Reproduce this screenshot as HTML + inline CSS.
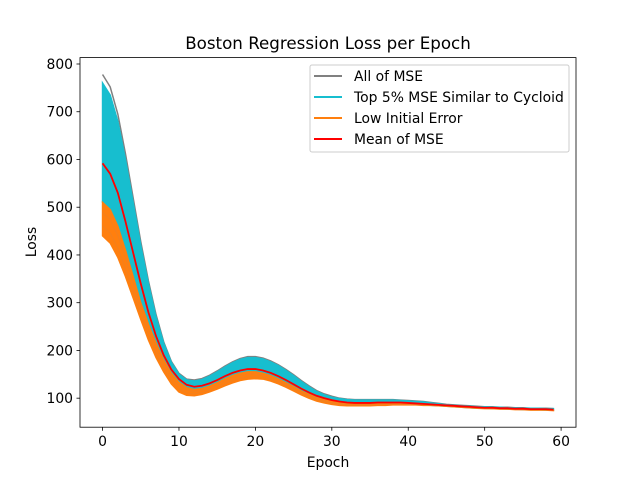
<!DOCTYPE html>
<html><head><meta charset="utf-8"><style>
body{margin:0;background:#fff;}
svg text{font-family:"DejaVu Sans","Liberation Sans",sans-serif;fill:#000;}
</style></head><body>
<svg id="chart" width="640" height="480" viewBox="0 0 640 480" xmlns="http://www.w3.org/2000/svg">
<rect width="640" height="480" fill="#fff"/>
<g id="marks"></g>
<rect x="80" y="57.6" width="496" height="369.6" fill="none" stroke="#000" stroke-width="0.8"/>
<g id="axes"></g>
<text x="328" y="49" font-size="16.7" text-anchor="middle">Boston Regression Loss per Epoch</text>
<text x="328" y="467" font-size="13.9" text-anchor="middle">Epoch</text>
<text transform="translate(36,242) rotate(-90)" font-size="13.9" text-anchor="middle">Loss</text>
<g>
<rect x="310" y="65" width="259" height="87" rx="2" fill="#fff" fill-opacity="0.8" stroke="#ccc" stroke-width="1"/>
<g><line x1="314" y1="76" x2="342" y2="76" stroke="#808080" stroke-width="2"/><text x="354" y="81" font-size="13.9">All of MSE</text></g>
<g><line x1="314" y1="97" x2="342" y2="97" stroke="#17becf" stroke-width="2"/><text x="354" y="102" font-size="13.9">Top 5% MSE Similar to Cycloid</text></g>
<g><line x1="314" y1="118" x2="342" y2="118" stroke="#ff7f0e" stroke-width="2"/><text x="354" y="123" font-size="13.9">Low Initial Error</text></g>
<g><line x1="314" y1="139" x2="342" y2="139" stroke="#ff0000" stroke-width="2"/><text x="354" y="144" font-size="13.9">Mean of MSE</text></g>
</g>
</svg>
<script>
const xTicks=[0,10,20,30,40,50,60];
const yTicks=[100,200,300,400,500,600,700,800];
const meanLoss=[592,570,530,470,405,340,280,230,190,160,140,128,124,126,131,138,146,153,158,161,161,158,153,146,138,129,120,112,105,100,96,93,91,90,90,90,91,91,91,91,90,89,88,87,86,85,84,83,82,81,80,80,79,79,78,78,77,77,77,76];
const cyanTop=[760,735,680,600,510,420,340,270,215,175,150,138,136,139,146,155,165,174,181,185,185,182,176,168,158,147,135,124,114,107,102,99,97,96,96,96,96,96,96,95,94,93,92,90,88,86,85,84,83,82,82,81,81,80,80,79,79,79,78,78];
const grayTop=[778,752,695,612,520,428,346,275,218,177,152,140,138,141,148,157,167,176,183,187,187,184,178,170,160,149,137,126,116,109,104,100,98,97,97,97,97,97,97,96,95,94,93,91,89,87,86,85,84,83,82,82,81,81,80,80,79,79,79,78];
const orangeTop=[510,495,460,410,355,300,255,215,180,152,133,122,118,120,125,132,140,147,152,155,155,152,147,140,132,124,115,108,101,97,93,91,89,88,88,88,89,89,89,89,88,87,86,85,84,83,82,81,80,79,79,78,78,77,77,76,76,76,75,75];
const orangeLow=[440,425,395,355,310,265,222,185,155,130,113,106,105,108,113,119,126,132,137,140,141,140,136,130,123,115,107,100,94,90,87,85,84,84,84,84,85,85,86,86,86,86,85,85,84,83,82,81,80,79,78,78,77,77,76,76,75,75,75,74];
const grayStarts=[0.0,0.35,0.6,0.8];

const xMin=-2.95,xMax=61.95,yMin=39.2,yMax=813.4;
const X=v=>80+(v-xMin)/(xMax-xMin)*496;
const Y=v=>427.2-(v-yMin)/(yMax-yMin)*369.6;
const NS="http://www.w3.org/2000/svg";
const marks=document.getElementById('marks'), axes=document.getElementById('axes');
function pts(a){return a.map((v,i)=>X(i).toFixed(2)+","+Y(v).toFixed(2));}
function band(top,low,color,name){
  const p=document.createElementNS(NS,'polygon');
  p.setAttribute('points',pts(top).concat(pts(low).reverse()).join(' '));
  p.setAttribute('fill',color);p.setAttribute('stroke',color);p.setAttribute('stroke-width','1.5');
  
  
  marks.appendChild(p);
}
function line(a,color,w,name){
  const p=document.createElementNS(NS,'polyline');
  p.setAttribute('points',pts(a).join(' '));
  p.setAttribute('fill','none');p.setAttribute('stroke',color);p.setAttribute('stroke-width',w);
  
  
  marks.appendChild(p);
}
grayStarts.forEach(t=>{
  const a=grayTop.map((v,i)=>v*(1-t)+meanLoss[i]*t);
  line(a,'#808080',1.5,'mse-line');
});
band(cyanTop,orangeTop,'#17becf','top5-band');
band(orangeTop,orangeLow,'#ff7f0e','low-initial-band');
[0.3,0.7].forEach(t=>{
  const a=orangeTop.map((v,i)=>v*(1-t)+orangeLow[i]*t);
  line(a,'#f08020',0.8,'low-initial-line');
});
line(meanLoss,'#ff0000',1.8,'mean-line');
xTicks.forEach(t=>{
  const l=document.createElementNS(NS,'line');
  l.setAttribute('x1',X(t));l.setAttribute('x2',X(t));l.setAttribute('y1',427.2);l.setAttribute('y2',430.7);l.setAttribute('stroke','#000');l.setAttribute('stroke-width','0.8');
  
  
  axes.appendChild(l);
  const tx=document.createElementNS(NS,'text');
  tx.setAttribute('x',X(t));tx.setAttribute('y',446);tx.setAttribute('font-size','13.9');tx.setAttribute('text-anchor','middle');tx.textContent=t;
  
  
  axes.appendChild(tx);
});
yTicks.forEach(t=>{
  const l=document.createElementNS(NS,'line');
  l.setAttribute('x1',76.5);l.setAttribute('x2',80);l.setAttribute('y1',Y(t));l.setAttribute('y2',Y(t));l.setAttribute('stroke','#000');l.setAttribute('stroke-width','0.8');
  
  
  axes.appendChild(l);
  const tx=document.createElementNS(NS,'text');
  tx.setAttribute('x',73);tx.setAttribute('y',Y(t)+5);tx.setAttribute('font-size','13.9');tx.setAttribute('text-anchor','end');tx.textContent=t;
  
  
  axes.appendChild(tx);
});
</script>
</body></html>
